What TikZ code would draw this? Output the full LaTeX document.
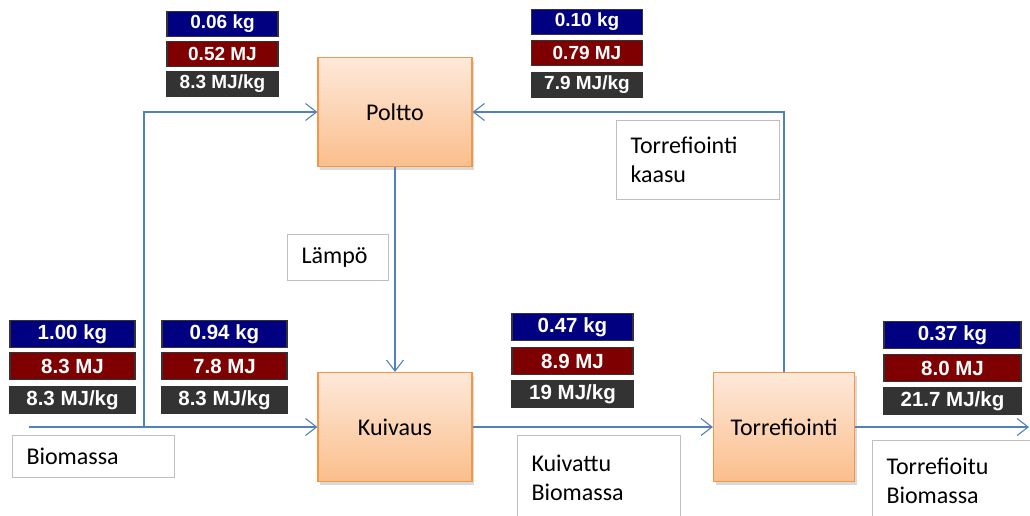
\documentclass[tikz,border=0pt]{standalone}
\usepackage{fontspec}
\setmainfont{Carlito}
\newfontfamily\datafont{Liberation Sans}
\usetikzlibrary{arrows.meta,shadows}

\definecolor{flowblue}{HTML}{4F81BD}
\definecolor{procedge}{HTML}{F79646}
\definecolor{proctop}{HTML}{FDE9DA}
\definecolor{procbot}{HTML}{FBBE8C}
\definecolor{kgblue}{HTML}{000080}
\definecolor{mjred}{HTML}{7F0000}
\definecolor{mjkggray}{HTML}{333333}
\definecolor{labeledge}{HTML}{BFBFBF}

\tikzset{
    process/.style={rectangle, draw=procedge, line width=1.2pt, top color=proctop, bottom color=procbot,
        minimum width=154pt, minimum height=109pt, font=\fontsize{24}{28}\selectfont,
        drop shadow={opacity=0.3, shadow xshift=2pt, shadow yshift=-3pt}},
    flow/.style={draw=flowblue, line width=1.1pt, -{Straight Barb[length=11pt, width=17pt, line width=1.1pt]}},
    textbox/.style={rectangle, draw=labeledge, line width=1pt, fill=white, anchor=north west, align=left,
        inner xsep=14pt, font=\fontsize{24}{29}\selectfont},
    databox/.style={rectangle, draw=black!80, line width=1.2pt, text=white, inner sep=0pt,
        minimum height=27.5pt, font=\datafont\bfseries\fontsize{20.5}{20.5}\selectfont},
    kgbox/.style={databox, fill=kgblue},
    mjbox/.style={databox, fill=mjred},
    mjkgbox/.style={databox, fill=mjkggray},
    smalldata/.style={font=\datafont\bfseries\fontsize{19}{19}\selectfont, minimum width=111pt, minimum height=25.5pt}
}

\begin{document}
\begin{tikzpicture}[x=1pt, y=-1pt]
    \useasboundingbox (0,0) rectangle (1030,515);

    % Processes
    \node[process] at (395,112) (poltto) {Poltto};
    \node[process] at (395,427) (kuivaus) {Kuivaus};
    \node[process, minimum width=141pt] at (784,427) (torr) {Torrefiointi};

    % Labels
    \node[textbox, text width=134pt, minimum height=42pt] at (12,435) (biolabel) {Biomassa};
    \node[textbox, text width=73pt, minimum height=46pt] at (287,234) (heatlabel) {Lämpö};
    \node[textbox, text width=135pt, minimum height=79pt] at (616,120) (gaslabel) {Torrefiointi\\kaasu};
    \node[textbox, text width=135pt, minimum height=85pt] at (517,435) (drylabel) {Kuivattu\\Biomassa};
    \node[textbox, text width=135pt, minimum height=80pt] at (872,440) (torrlabel) {Torrefioitu\\Biomassa};

    % Connectors
    \coordinate (start) at (29,427);
    \coordinate (split) at (144,427);
    \coordinate (out) at (1029,427);
    \draw[flow] (start) -- (kuivaus.west);
    \draw[flow] (split) |- (poltto.west);
    \draw[flow] (poltto.south) -- (kuivaus.north);
    \draw[flow] (kuivaus.east) -- (torr.west);
    \draw[flow] (torr.north) |- (poltto.east);
    \draw[flow] (torr.east) -- (out);

    % Data: to Poltto (biomass)
    \node[kgbox, smalldata] at (222.5,24) (burnkg) {0.06 kg};
    \node[mjbox, smalldata] at (222.5,54) (burnmj) {0.52 MJ};
    \node[mjkgbox, smalldata] at (222.5,84) (burnmjkg) {8.3 MJ/kg};

    % Data: to Poltto (gas)
    \node[kgbox, smalldata] at (587,22) (gaskg) {0.10 kg};
    \node[mjbox, smalldata] at (587,53) (gasmj) {0.79 MJ};
    \node[mjkgbox, smalldata] at (587,85) (gasmjkg) {7.9 MJ/kg};

    % Data: biomass in
    \node[kgbox, minimum width=125pt] at (72.5,334) (biokg) {1.00 kg};
    \node[mjbox, minimum width=125pt] at (72.5,366) (biomj) {8.3 MJ};
    \node[mjkgbox, minimum width=125pt] at (72.5,400) (biomjkg) {8.3 MJ/kg};

    % Data: to Kuivaus
    \node[kgbox, minimum width=125pt] at (224.5,334) (feedkg) {0.94 kg};
    \node[mjbox, minimum width=125pt] at (224.5,366) (feedmj) {7.8 MJ};
    \node[mjkgbox, minimum width=125pt] at (224.5,400) (feedmjkg) {8.3 MJ/kg};

    % Data: dried
    \node[kgbox, minimum width=121pt] at (572.5,327) (drykg) {0.47 kg};
    \node[mjbox, minimum width=121pt] at (572.5,361) (drymj) {8.9 MJ};
    \node[mjkgbox, minimum width=121pt] at (572.5,394) (drymjkg) {19 MJ/kg};

    % Data: torrefied
    \node[kgbox, minimum width=137pt] at (952.5,335) (torrkg) {0.37 kg};
    \node[mjbox, minimum width=137pt] at (952.5,368) (torrmj) {8.0 MJ};
    \node[mjkgbox, minimum width=137pt] at (952.5,401) (torrmjkg) {21.7 MJ/kg};
\end{tikzpicture}
\end{document}
